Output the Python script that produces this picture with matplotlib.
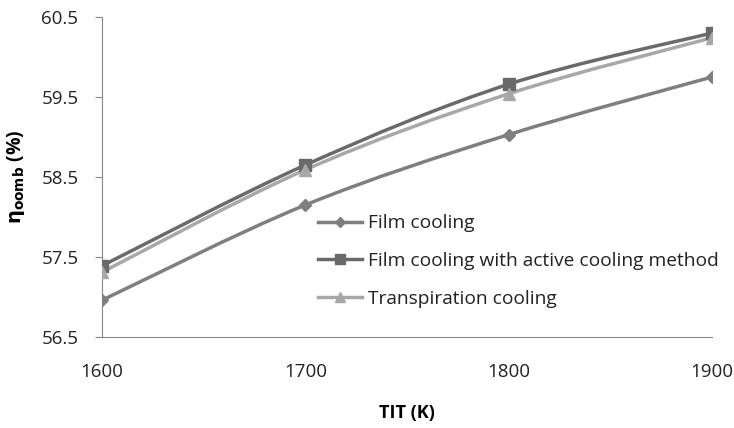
import numpy as np
import matplotlib
matplotlib.use("Agg")
import matplotlib.pyplot as plt
from matplotlib.path import Path
from matplotlib.patches import PathPatch

plt.rcParams['font.family'] = ['Open Sans', 'DejaVu Sans']

# data
tit = [1600, 1700, 1800, 1900]
film = [56.96, 58.15, 59.03, 59.75]
active = [57.39, 58.65, 59.66, 60.30]
transp = [57.31, 58.59, 59.54, 60.24]
labels = ['Film cooling', 'Film cooling with active cooling method', 'Transpiration cooling']
colors = ['#7f7f7f', '#6a6a6a', '#a8a8a8']
markers = ['D', 's', '^']
msizes = [6, 8, 8]


def smooth_path(x, y, t=0.5 / 3):
    # excel style smooth line, drawn as cubic bezier segments
    x = np.asarray(x, float)
    y = np.asarray(y, float)
    verts = [(x[0], y[0])]
    codes = [Path.MOVETO]
    n = len(x)
    for i in range(n - 1):
        x0, y0 = (x[i - 1], y[i - 1]) if i > 0 else (x[i], y[i])
        x3, y3 = (x[i + 2], y[i + 2]) if i + 2 < n else (x[i + 1], y[i + 1])
        c1 = (x[i] + (x[i + 1] - x0) * t, y[i] + (y[i + 1] - y0) * t)
        c2 = (x[i + 1] - (x3 - x[i]) * t, y[i + 1] - (y3 - y[i]) * t)
        verts += [c1, c2, (x[i + 1], y[i + 1])]
        codes += [Path.CURVE4] * 3
    return Path(verts, codes)


fig = plt.figure(figsize=(7.34, 4.28), dpi=100)
ax = fig.add_axes([102 / 734, 1 - 337 / 428, 610 / 734, 320 / 428])

for ys, lab, c, m, ms in zip([film, active, transp], labels, colors, markers, msizes):
    ax.add_patch(PathPatch(smooth_path(tit, ys), fill=False, edgecolor=c, lw=2.5, zorder=2))
    ax.plot(tit, ys, linestyle='none', marker=m, color=c, markersize=ms, zorder=3)
    ax.plot([], [], color=c, lw=2.5, marker=m, markersize=ms - 1, label=lab)

ax.set_xlim(1600, 1900)
ax.set_ylim(56.5, 60.5)
ax.set_xticks([1600, 1700, 1800, 1900])
ax.set_yticks([56.5, 57.5, 58.5, 59.5, 60.5])
ax.set_yticklabels(['56.5', '57.5', '58.5', '59.5', '60.5'])
for s in ['top', 'right']:
    ax.spines[s].set_visible(False)
for s in ['left', 'bottom']:
    ax.spines[s].set_color('#888888')
ax.tick_params(axis='y', length=5, color='#888888', labelsize=13.5, pad=12, labelcolor='#222222')
ax.tick_params(axis='x', length=0, labelsize=13.5, pad=19, labelcolor='#222222')

ax.set_xlabel('TIT (K)', fontsize=13, fontweight='bold', labelpad=16)
ax.set_ylabel(r'$\mathbf{\eta_{oomb}}$ (%)', fontsize=14, fontweight='bold', labelpad=10)

ax.legend(loc='center left', bbox_to_anchor=(0.354, 0.2375), frameon=False, fontsize=13.8,
          handlelength=2.3, labelspacing=1.03, handletextpad=0.3, borderpad=0,
          borderaxespad=0, labelcolor='#222222')

fig.savefig('out.png', dpi=100)
